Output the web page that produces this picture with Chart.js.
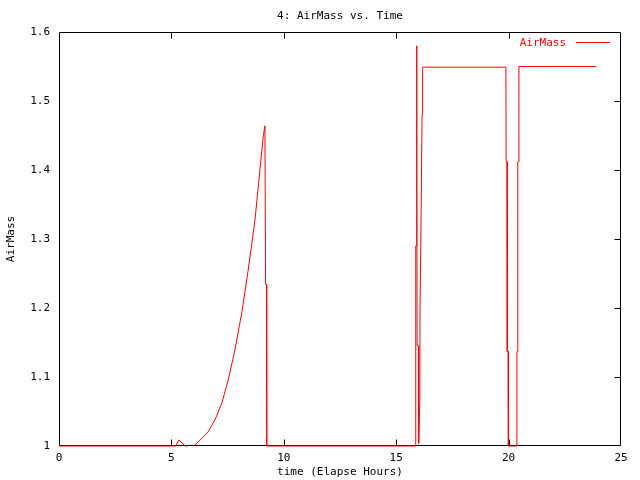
<!DOCTYPE html>
<html>
<head>
<meta charset="utf-8">
<script src="https://cdn.jsdelivr.net/npm/chart.js@4/dist/chart.umd.min.js"></script>
<style>
html,body{margin:0;padding:0;background:#fff;}
#wrap{width:640px;height:480px;}
</style>
</head>
<body>
<div id="wrap"><canvas id="c" width="640" height="480"></canvas></div>
<script>
const chartTitle = '4: AirMass vs. Time';
const seriesLabel = 'AirMass';
const xTitle = 'time (Elapse Hours)';
const yTitle = 'AirMass';
const xTickValues = [0, 5, 10, 15, 20, 25];
const yTickValues = [1, 1.1, 1.2, 1.3, 1.4, 1.5, 1.6];
const times = [0, 5.2, 5.32, 5.62, 5.69, 5.7, 5.97, 5.98, 6.05, 6.35, 6.64, 6.94, 7.24, 7.53, 7.83, 8.13, 8.42, 8.72, 8.94, 9.09, 9.16,
  9.19, 9.23, 9.24, 15.86, 15.87, 15.9, 15.91, 15.92, 15.93, 15.99, 16.0, 16.05, 16.06, 16.1, 16.11, 16.14, 16.15, 16.17, 16.18,
  19.88, 19.89, 19.93, 19.94, 19.98, 19.99, 20.36, 20.37, 20.4, 20.41, 20.45, 20.46, 23.9];
const airmass = [1, 1, 1.0087, 1, 1, null, null, 1.0, 1.0015, 1.011, 1.021, 1.038, 1.062, 1.096, 1.14, 1.193, 1.256, 1.328, 1.401, 1.45, 1.464,
  1.234, 1.234, 1.0, 1.0, 1.29, 1.29, 1.58, 1.43, 1.145, 1.145, 1.004, 1.067, 1.2, 1.2, 1.34, 1.34, 1.48, 1.48, 1.549,
  1.549, 1.412, 1.412, 1.137, 1.137, 1.0, 1.0, 1.137, 1.137, 1.412, 1.412, 1.55, 1.55];

const FONT = 'DejaVu Sans Mono';
Chart.defaults.font.family = FONT;
Chart.defaults.font.size = 11;
Chart.defaults.color = '#000';

const frame = {
  id: 'frame',
  beforeDatasetsDraw(chart) {
    const {ctx, chartArea: a, scales: {x, y}} = chart;
    ctx.save();
    ctx.strokeStyle = '#000';
    ctx.lineWidth = 1;
    const L = Math.round(a.left) + 0.5, R = Math.round(a.right) - 0.5;
    const T = Math.round(a.top) + 0.5, B = Math.round(a.bottom) - 0.5;
    ctx.beginPath();
    ctx.rect(L, T, R - L, B - T);
    xTickValues.slice(1, -1).forEach(v => {
      const px = Math.round(x.getPixelForValue(v)) + 0.5;
      ctx.moveTo(px, B); ctx.lineTo(px, B - 6);
      ctx.moveTo(px, T); ctx.lineTo(px, T + 6);
    });
    yTickValues.slice(1, -1).forEach(v => {
      const py = Math.round(y.getPixelForValue(v)) + 0.5;
      ctx.moveTo(R, py); ctx.lineTo(R - 6, py);
    });
    ctx.stroke();
    ctx.fillStyle = '#000';
    ctx.font = '11px "' + FONT + '"';
    ctx.textAlign = 'center';
    ctx.textBaseline = 'middle';
    ctx.fillText(chartTitle, (a.left + a.right) / 2, 16);
    ctx.restore();
  },
  afterDatasetsDraw(chart) {
    const {ctx} = chart;
    const ds = chart.data.datasets[0];
    ctx.save();
    ctx.font = '11px "' + FONT + '"';
    ctx.fillStyle = ds.borderColor;
    ctx.strokeStyle = ds.borderColor;
    ctx.lineWidth = 1;
    ctx.textAlign = 'right';
    ctx.textBaseline = 'middle';
    ctx.fillText(ds.label, 566, 43);
    ctx.beginPath();
    ctx.moveTo(576, 42.5); ctx.lineTo(610, 42.5);
    ctx.stroke();
    ctx.restore();
  }
};

new Chart(document.getElementById('c'), {
  type: 'line',
  data: {
    datasets: [{
      label: seriesLabel,
      data: times.map((t, i) => ({x: t, y: airmass[i]})),
      borderColor: '#ff0000',
      borderWidth: 1,
      pointRadius: 0,
      tension: 0,
      spanGaps: false,
      clip: 2
    }]
  },
  options: {
    responsive: false,
    animation: false,
    devicePixelRatio: 1,
    layout: {padding: {top: 32, right: 19, left: 0, bottom: 0}},
    plugins: {legend: {display: false}, title: {display: false}, tooltip: {enabled: false}},
    scales: {
      x: {
        type: 'linear', min: 0, max: 25,
        afterBuildTicks: s => { s.ticks = xTickValues.map(v => ({value: v})); },
        afterFit: s => { s.height = 34; },
        grid: {display: false, drawTicks: false},
        border: {display: false},
        ticks: {padding: 6, font: {size: 11}, callback: v => String(v)},
        title: {display: true, text: xTitle, padding: {top: 0, bottom: 1}, font: {size: 11}}
      },
      y: {
        type: 'linear', min: 1, max: 1.6,
        afterBuildTicks: s => { s.ticks = yTickValues.map(v => ({value: v})); },
        afterFit: s => { s.width = 59; },
        grid: {display: false, drawTicks: false},
        border: {display: false},
        ticks: {padding: 9, font: {size: 11}, callback: v => String(+v.toFixed(1))},
        title: {display: true, text: yTitle, padding: {top: 5, bottom: 0}, font: {size: 11}}
      }
    }
  },
  plugins: [frame]
});
</script>
</body>
</html>
